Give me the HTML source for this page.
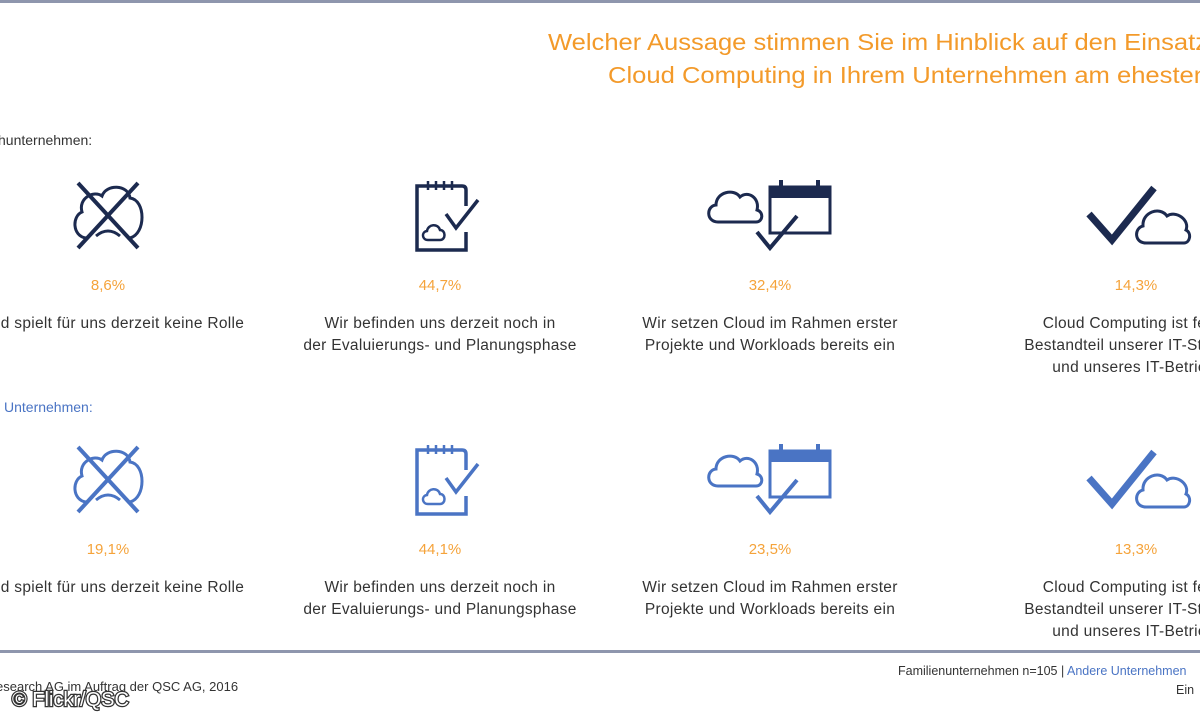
<!DOCTYPE html>
<html><head><meta charset="utf-8"><style>
html,body{margin:0;padding:0;background:#fff;width:1200px;height:720px;overflow:hidden}
svg{display:block}
text{font-family:"Liberation Sans",sans-serif}
</style></head><body>
<svg width="1200" height="720" viewBox="0 0 1200 720" xmlns="http://www.w3.org/2000/svg">
<defs>
<g id="xcloud" fill="none" stroke="currentColor">
 <path d="M86,238 C72,236 72,216 82,212 C78,198 94,190 102,196 C106,184 128,184 130,198 C146,200 146,234 130,238" stroke-width="3"/>
 <path d="M96,236 Q108,226 120,236" stroke-width="3"/>
 <line x1="78" y1="183" x2="138" y2="248" stroke-width="4"/>
 <line x1="138" y1="183" x2="78" y2="248" stroke-width="4"/>
</g>
<g id="note" fill="none" stroke="currentColor">
 <path d="M466,206 V190 Q466,186 462,186 H417 V250 H466 V232" stroke-width="3.5"/>
 <line x1="428" y1="181" x2="428" y2="190" stroke-width="2.5"/>
 <line x1="436" y1="181" x2="436" y2="190" stroke-width="2.5"/>
 <line x1="444" y1="181" x2="444" y2="190" stroke-width="2.5"/>
 <line x1="452" y1="181" x2="452" y2="190" stroke-width="2.5"/>
 <path d="M446,214 L456,228 L478,200" stroke-width="3.5"/>
 <path d="M428,240 C422,240 421,232 427,231 C428,224 438,223 440,230 C446,230 446,240 440,240 Z" stroke-width="2.5"/>
</g>
<g id="cal" fill="none" stroke="currentColor">
 <path d="M718,222 C706,222 706,206 716,205 C716,192 734,188 740,197 C748,190 760,198 757,210 C764,212 763,222 756,222 Z" stroke-width="3"/>
 <rect x="770" y="187" width="60" height="46" stroke-width="3"/>
 <rect x="770" y="187" width="60" height="11" fill="currentColor" stroke="none"/>
 <line x1="781" y1="180" x2="781" y2="192" stroke-width="4"/>
 <line x1="818" y1="180" x2="818" y2="192" stroke-width="4"/>
 <path d="M757,232 L770,248 L797,216" stroke-width="4"/>
</g>
<g id="chk" fill="none" stroke="currentColor">
 <path d="M1089,214 L1112,240 L1154,188" stroke-width="7"/>
 <path d="M1146,243 C1134,243 1134,228 1143,226 C1142,212 1160,206 1167,216 C1176,210 1190,220 1186,230 C1192,233 1190,243 1184,243 Z" stroke-width="3"/>
</g>
</defs>
<rect x="0" y="0" width="1200" height="3" fill="#8e96ad"/>
<text x="548" y="50" font-size="23" fill="#f39a2a" textLength="660" lengthAdjust="spacingAndGlyphs">Welcher Aussage stimmen Sie im Hinblick auf den Einsatz</text>
<text x="608" y="83" font-size="23" fill="#f39a2a" textLength="600" lengthAdjust="spacingAndGlyphs">Cloud Computing in Ihrem Unternehmen am ehesten</text>

<text x="-2" y="145" font-size="14" fill="#333">hunternehmen:</text>
<g color="#1c2a4f"><use href="#xcloud"/><use href="#note"/><use href="#cal"/><use href="#chk"/></g>
<g font-size="15" fill="#f5a33a" text-anchor="middle">
<text x="108" y="290">8,6%</text><text x="440" y="290">44,7%</text><text x="770" y="290">32,4%</text><text x="1136" y="290">14,3%</text>
</g>
<g font-size="15.5" fill="#333" text-anchor="middle" letter-spacing="0.3">
<text x="118" y="328">ud spielt für uns derzeit keine Rolle</text>
<text x="440" y="328">Wir befinden uns derzeit noch in</text>
<text x="440" y="350">der Evaluierungs- und Planungsphase</text>
<text x="770" y="328">Wir setzen Cloud im Rahmen erster</text>
<text x="770" y="350">Projekte und Workloads bereits ein</text>
<text x="1138" y="328">Cloud Computing ist fester</text>
<text x="1138" y="350">Bestandteil unserer IT-Strategie</text>
<text x="1138" y="372">und unseres IT-Betriebs</text>
</g>

<text x="4" y="412" font-size="14" fill="#4a74c4">Unternehmen:</text>
<g color="#4a74c4" transform="translate(0,264)"><use href="#xcloud"/><use href="#note"/><use href="#cal"/><use href="#chk"/></g>
<g font-size="15" fill="#f5a33a" text-anchor="middle">
<text x="108" y="554">19,1%</text><text x="440" y="554">44,1%</text><text x="770" y="554">23,5%</text><text x="1136" y="554">13,3%</text>
</g>
<g font-size="15.5" fill="#333" text-anchor="middle" letter-spacing="0.3">
<text x="118" y="592">ud spielt für uns derzeit keine Rolle</text>
<text x="440" y="592">Wir befinden uns derzeit noch in</text>
<text x="440" y="614">der Evaluierungs- und Planungsphase</text>
<text x="770" y="592">Wir setzen Cloud im Rahmen erster</text>
<text x="770" y="614">Projekte und Workloads bereits ein</text>
<text x="1138" y="592">Cloud Computing ist fester</text>
<text x="1138" y="614">Bestandteil unserer IT-Strategie</text>
<text x="1138" y="636">und unseres IT-Betriebs</text>
</g>

<rect x="0" y="650" width="1200" height="3" fill="#8e96ad"/>
<text x="-4" y="691" font-size="13" fill="#333">esearch AG im Auftrag der QSC AG, 2016</text>
<text x="12" y="706" font-size="20" fill="#fff" stroke="#333" stroke-width="2.5" paint-order="stroke">© Flickr/QSC</text>
<text x="898" y="675" font-size="12.5" fill="#333">Familienunternehmen n=105 | <tspan fill="#4a74c4">Andere Unternehmen</tspan></text>
<text x="1176" y="694" font-size="12.5" fill="#333">Ein</text>
</svg>
</body></html>
